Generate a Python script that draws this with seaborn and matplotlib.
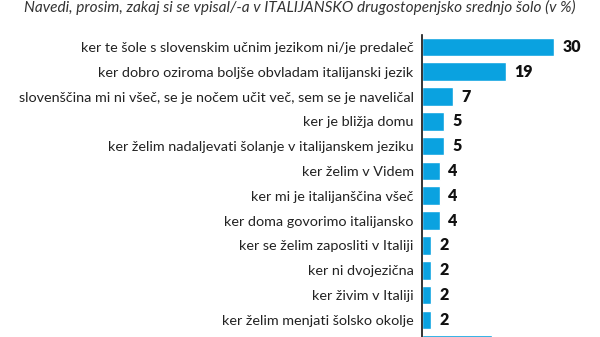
import matplotlib
matplotlib.use("Agg")
import matplotlib.pyplot as plt
import seaborn as sns
import pandas as pd

title = "Navedi, prosim, zakaj si se vpisal/-a v ITALIJANSKO drugostopenjsko srednjo šolo (v %)"
categories = [
    "ker te šole s slovenskim učnim jezikom ni/je predaleč",
    "ker dobro oziroma boljše obvladam italijanski jezik",
    "slovenščina mi ni všeč, se je nočem učit več, sem se je naveličal",
    "ker je bližja domu",
    "ker želim nadaljevati šolanje v italijanskem jeziku",
    "ker želim v Videm",
    "ker mi je italijanščina všeč",
    "ker doma govorimo italijansko",
    "ker se želim zaposliti v Italiji",
    "ker ni dvojezična",
    "ker živim v Italiji",
    "ker želim menjati šolsko okolje",
    "",
]
values = [30, 19, 7, 5, 5, 4, 4, 4, 2, 2, 2, 2, 16]
shown_values = ["30", "19", "7", "5", "5", "4", "4", "4", "2", "2", "2", "2", ""]

df = pd.DataFrame({"cat": categories, "val": values})

sns.set_theme(style="white")
plt.rcParams["font.family"] = ["Lato", "DejaVu Sans"]

W, H = 600, 337
fig = plt.figure(figsize=(6, 3.37), dpi=100)
ax_left = 422 / W
ax_w = (554 - 422) / W
ax_top = 35
ax = fig.add_axes([ax_left, 0, ax_w, 1 - ax_top / H])

sns.barplot(data=df, x="val", y="cat", ax=ax, color="#0aa2e0", saturation=1,
            width=0.75, orient="h")
ax.set_xlim(0, 30)
ax.set_ylim(11.69, -0.48)
ax.set_xlabel("")
ax.set_ylabel("")
ax.set_xticks([])
for s in ["top", "right", "bottom"]:
    ax.spines[s].set_visible(False)
ax.spines["left"].set_color("#111111")
ax.spines["left"].set_linewidth(1.2)
ax.tick_params(axis="y", length=0, pad=6, labelsize=10.4, labelcolor="#222222")

for i, (v, t) in enumerate(zip(values, shown_values)):
    if t:
        ax.text(v + 2.0, i, t, va="center", ha="left", fontsize=11.5,
                fontweight="heavy", color="#111111", clip_on=False)

fig.text(0.5, 1 - 12 / H, title, ha="center", va="baseline", fontsize=11.1,
         style="italic", color="#333333")

fig.savefig("out.png", dpi=100)
